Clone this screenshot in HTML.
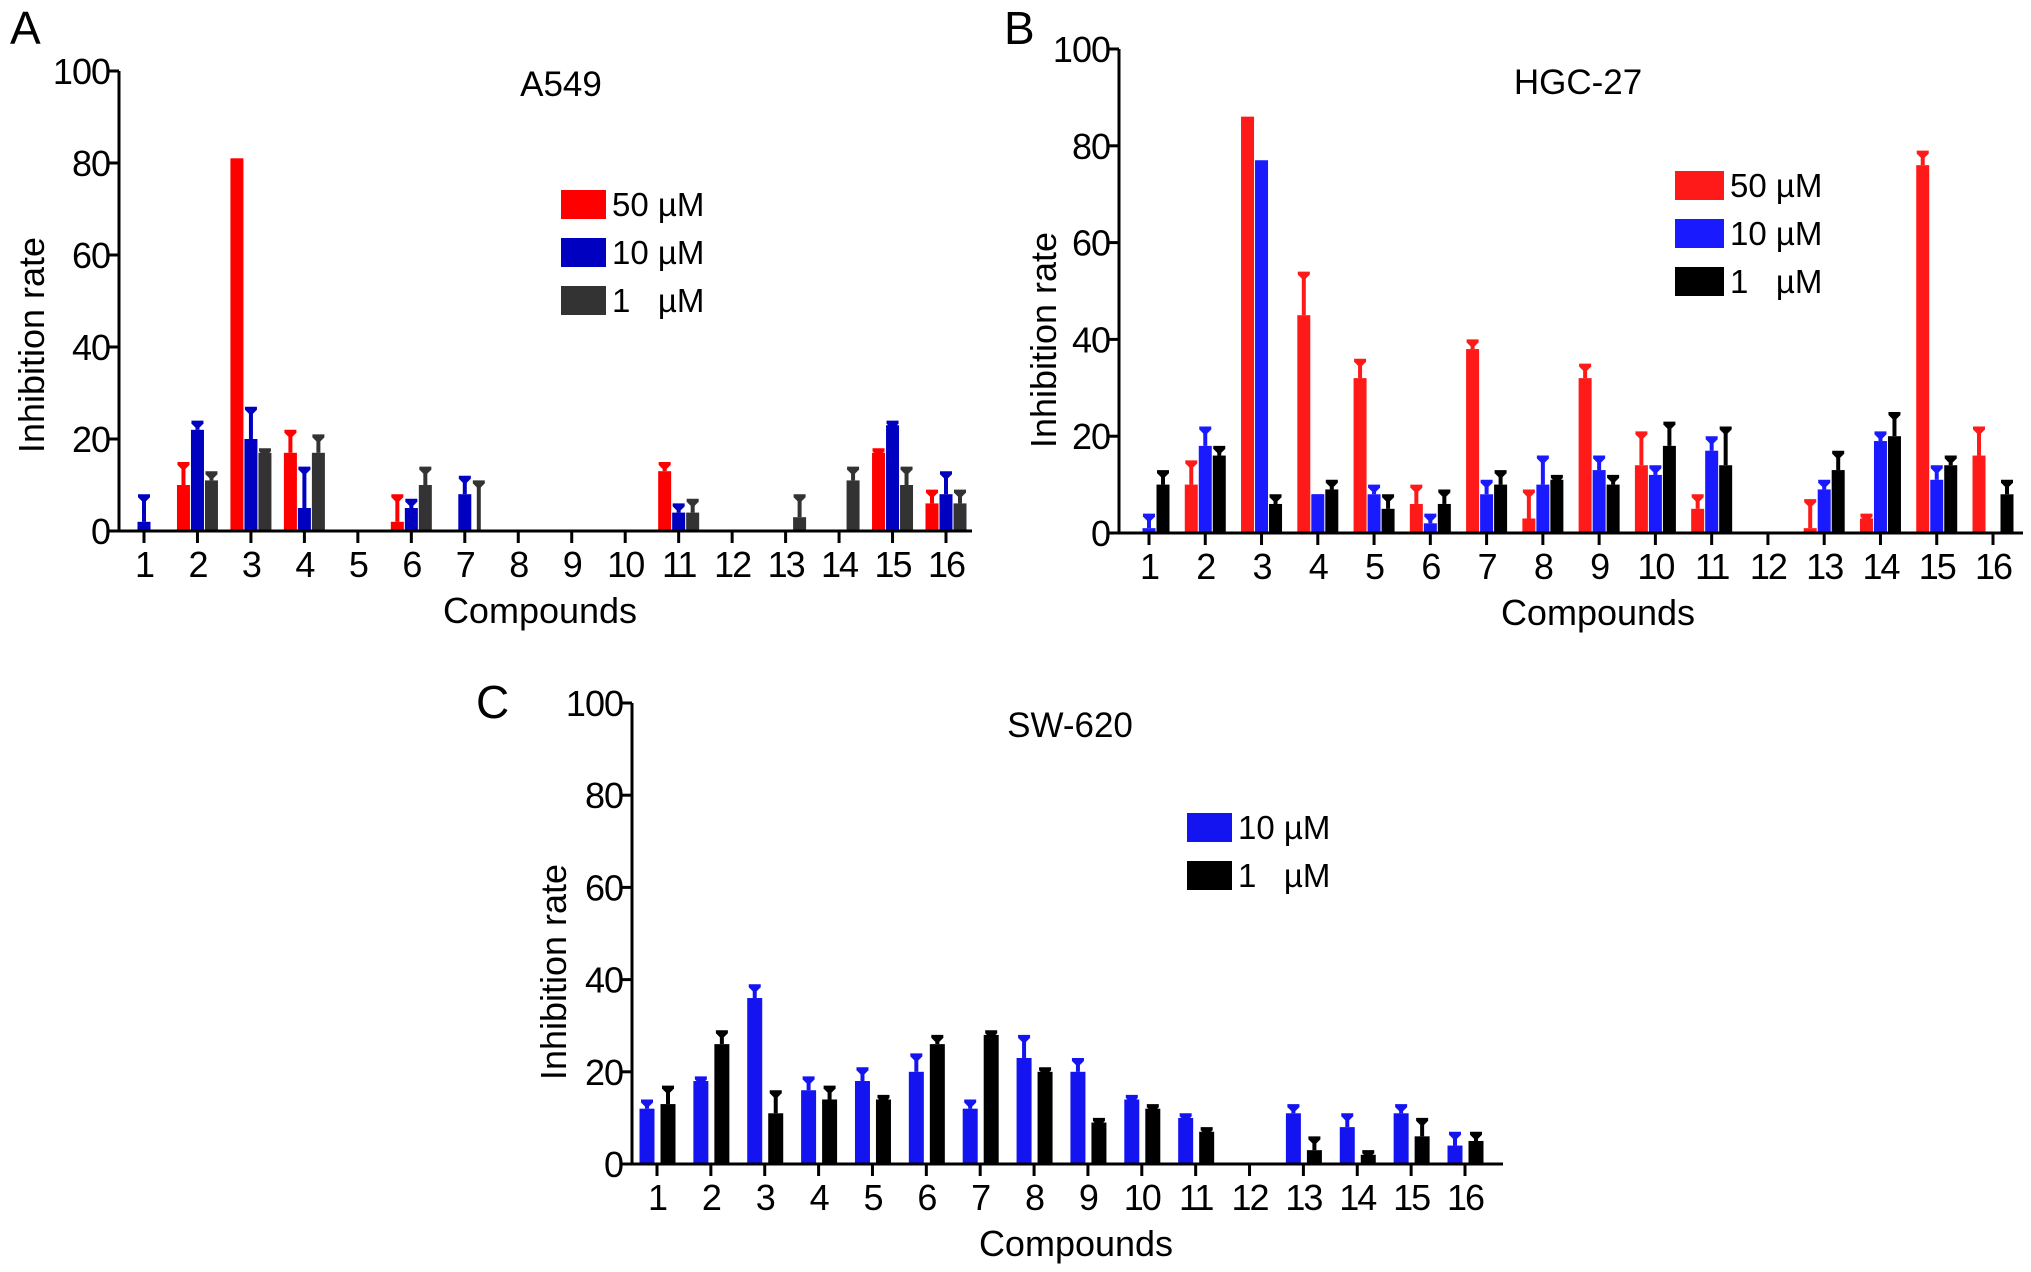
<!DOCTYPE html>
<html><head><meta charset="utf-8"><style>
html,body{margin:0;padding:0;background:#fff;}
svg{display:block;font-family:"Liberation Sans",Arial,sans-serif;}
text{white-space:pre;}
</style></head><body>
<svg id="fig" width="2031" height="1272" viewBox="0 0 2031 1272" xmlns="http://www.w3.org/2000/svg"></svg>
<script>
const compounds = ["1","2","3","4","5","6","7","8","9","10","11","12","13","14","15","16"];
const yTicks = [0,20,40,60,80,100];
// Panel A - A549
const a50 = [0,10,81,17,0,2,0,0,0,0,13,0,0,0,17,6];
const a50Err = [0,15,81,22,0,8,0,0,0,0,15,0,0,0,18,9];
const a10 = [2,22,20,5,0,5,8,0,0,0,4,0,0,0,23,8];
const a10Err = [8,24,27,14,0,7,12,0,0,0,6,0,0,0,24,13];
const a1 = [0,11,17,17,0,10,0,0,0,0,4,0,3,11,10,6];
const a1Err = [0,13,18,21,0,14,11,0,0,0,7,0,8,14,14,9];
// Panel B - HGC-27
const b50 = [0,10,86,45,32,6,38,3,32,14,5,0,1,3,76,16];
const b50Err = [0,15,86,54,36,10,40,9,35,21,8,0,7,4,79,22];
const b10 = [1,18,77,8,8,2,8,10,13,12,17,0,9,19,11,0];
const b10Err = [4,22,77,8,10,4,11,16,16,14,20,0,11,21,14,0];
const b1 = [10,16,6,9,5,6,10,11,10,18,14,0,13,20,14,8];
const b1Err = [13,18,8,11,8,9,13,12,12,23,22,0,17,25,16,11];
// Panel C - SW-620
const c10 = [12,18,36,16,18,20,12,23,20,14,10,0,11,8,11,4];
const c10Err = [14,19,39,19,21,24,14,28,23,15,11,0,13,11,13,7];
const c1 = [13,26,11,14,14,26,28,20,9,12,7,0,3,2,6,5];
const c1Err = [17,29,16,17,15,28,29,21,10,13,8,0,6,3,10,7];

const NS="http://www.w3.org/2000/svg";
const svg=document.getElementById('fig');
function mk(tag,attrs,parent){const e=document.createElementNS(NS,tag);for(const k in attrs)e.setAttribute(k,attrs[k]);(parent||svg).appendChild(e);return e;}
function txt(s,attrs,parent){const e=mk('text',attrs,parent);e.textContent=s;return e;}

function panel(cfg){
  const g=mk('g',{});
  
  
  const y=v=>cfg.y0-(v/100)*(cfg.y0-cfg.y100);
  const x=i=>cfg.t1+i*(cfg.t16-cfg.t1)/15;
  cfg.series.forEach((s,si)=>{
    const sg=mk('g',{},g);
    
    
    s.vals.forEach((v,i)=>{
      const cx=x(i)+cfg.offs[si];
      const top=y(s.err[i]);
      if(s.err[i]>v){
        const eb=mk('line',{x1:cx,x2:cx,y1:y(v),y2:top+2,stroke:s.color,'stroke-width':4},sg);
        
        
      }
      if(s.err[i]>0){
        const cap=mk('polygon',{points:`${cx-6},${top} ${cx+6},${top} ${cx+6},${top+3} ${cx+2},${top+7} ${cx-2},${top+7} ${cx-6},${top+3}`,fill:s.color},sg);
        
        
      }
      if(v>0){
        const r=mk('rect',{x:cx-cfg.bw/2,y:y(v),width:cfg.bw,height:cfg.y0-y(v),fill:s.color},sg);
        
        
      }
    });
  });
  const ya=mk('line',{x1:cfg.ax,x2:cfg.ax,y1:cfg.y100,y2:cfg.y0+1,stroke:'#000','stroke-width':3},g);
  
  
  const xa=mk('line',{x1:cfg.ax,x2:cfg.xend,y1:cfg.y0,y2:cfg.y0,stroke:'#000','stroke-width':3},g);
  
  
  yTicks.forEach(t=>{
    mk('line',{x1:cfg.ax-10,x2:cfg.ax,y1:y(t),y2:y(t),stroke:'#000','stroke-width':3},g);
    const l=txt(String(t),{x:cfg.ax-9,y:y(t)+13,'text-anchor':'end','font-size':36,'letter-spacing':-1},g);
    
    
  });
  compounds.forEach((c,i)=>{
    mk('line',{x1:x(i),x2:x(i),y1:cfg.y0,y2:cfg.y0+12,stroke:'#000','stroke-width':3},g);
    const l=txt(c,{x:x(i),y:cfg.y0+46,'text-anchor':'middle','font-size':36,'letter-spacing':-2},g);
    
    
  });
  const xt=txt('Compounds',{x:cfg.xtx,y:cfg.y0+92,'text-anchor':'middle','font-size':36},g);
  
  
  const yt=txt('Inhibition rate',{x:0,y:0,'text-anchor':'middle','font-size':36,transform:`translate(${cfg.ytx},${cfg.yty}) rotate(-90)`},g);
  
  
  const tt=txt(cfg.title,{x:cfg.titleX,y:cfg.titleY,'text-anchor':'middle','font-size':35},g);
  
  
  const pl=txt(cfg.letter,{x:cfg.lx,y:cfg.ly,'font-size':46},g);
  
  
  cfg.series.forEach((s,si)=>{
    const lg=mk('g',{},g);
    
    
    const ry=cfg.legY+si*cfg.legStep;
    mk('rect',{x:cfg.legX,y:ry,width:cfg.legW,height:29,fill:s.color},lg);
    txt(s.label,{x:cfg.legX+cfg.legW+6,y:ry+26,'font-size':33},lg);
  });
}

panel({name:'panel-a549',letter:'A',lx:10,ly:44,title:'A549',titleX:561,titleY:96,
  ax:119,y0:531,y100:71,xend:972,t1:144,t16:946,bw:13,offs:[-14,0,14],
  xtx:540,ytx:44,yty:345,legX:561,legY:190,legStep:48,legW:45,
  series:[{key:'50uM',label:'50 µM',color:'#ff0000',vals:a50,err:a50Err},
          {key:'10uM',label:'10 µM',color:'#0000c0',vals:a10,err:a10Err},
          {key:'1uM',label:'1   µM',color:'#333333',vals:a1,err:a1Err}]});
panel({name:'panel-hgc27',letter:'B',lx:1004,ly:44,title:'HGC-27',titleX:1578,titleY:94,
  ax:1119,y0:533,y100:49,xend:2023,t1:1149,t16:1993,bw:13,offs:[-14,0,14],
  xtx:1598,ytx:1056,yty:340,legX:1675,legY:171,legStep:48,legW:49,
  series:[{key:'50uM',label:'50 µM',color:'#ff1a1a',vals:b50,err:b50Err},
          {key:'10uM',label:'10 µM',color:'#1a1aff',vals:b10,err:b10Err},
          {key:'1uM',label:'1   µM',color:'#000000',vals:b1,err:b1Err}]});
panel({name:'panel-sw620',letter:'C',lx:476,ly:718,title:'SW-620',titleX:1070,titleY:737,
  ax:632,y0:1164,y100:703,xend:1503,t1:657,t16:1465,bw:15,offs:[-10,11],
  xtx:1076,ytx:566,yty:972,legX:1187,legY:813,legStep:48,legW:45,
  series:[{key:'10uM',label:'10 µM',color:'#1414f0',vals:c10,err:c10Err},
          {key:'1uM',label:'1   µM',color:'#000000',vals:c1,err:c1Err}]});
</script>
</body></html>
